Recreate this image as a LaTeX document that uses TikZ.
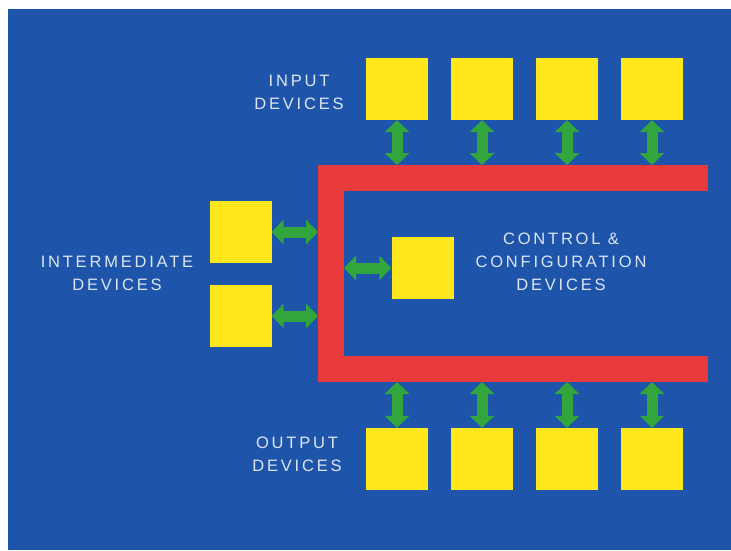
\documentclass[tikz,border=0pt]{standalone}
\usepackage{fontspec}
\setmainfont{Liberation Sans}
\newfontfamily\lblfont[LetterSpace=17]{Liberation Sans}
\usetikzlibrary{positioning,arrows.meta}
\definecolor{bgblue}{HTML}{1E55AA}
\definecolor{busred}{HTML}{E8393B}
\definecolor{devyel}{HTML}{FFE71C}
\definecolor{linkgrn}{HTML}{32A63C}
\definecolor{lbltext}{HTML}{DCE5F1}
\tikzset{
  dv box/.style={fill=devyel, minimum size=62pt, inner sep=0pt},
  dv arr/.style={{Triangle[length=12pt,width=24pt]}-{Triangle[length=12pt,width=24pt]}, line width=11pt, linkgrn},
  dv bus/.style={line width=26pt, busred, line join=miter},
  dv lbl/.style={font=\lblfont\fontsize{16.5}{23}\selectfont, text=lbltext, align=center},
}
\begin{document}
\begin{tikzpicture}[x=1pt, y=-1pt]
  \useasboundingbox (0,0) rectangle (731,551);
  \fill[bgblue] (8,9) rectangle (731,550);
  % bus and its edges
  \draw[dv bus] (708,178) -- (331,178) -- (331,369) -- (708,369);
  \coordinate (bt) at (0,165);
  \coordinate (bb) at (0,382);
  \coordinate (bl) at (318,0);
  \coordinate (bi) at (344,0);
  \foreach \n/\x in {1/397,2/482,3/567,4/652} {
    \node[dv box] (in\n) at (\x,89) {};
    \node[dv box] (out\n) at (\x,459) {};
    \draw[dv arr] (in\n.south) -- (in\n.south |- bt);
    \draw[dv arr] (out\n.north |- bb) -- (out\n.north);
  }
  \node[dv box] (mid1) at (240.5,232) {};
  \node[dv box] (mid2) at (240.5,316) {};
  \node[dv box] (ctl) at (422.5,268) {};
  \foreach \m in {mid1,mid2} \draw[dv arr] (\m.east) -- (\m.east -| bl);
  \draw[dv arr] (ctl.west -| bi) -- (ctl.west);
  \node[dv lbl] (inlbl) at (299,92) {INPUT\\DEVICES};
  \node[dv lbl] (outlbl) at (297,454) {OUTPUT\\DEVICES};
  \node[dv lbl] (midlbl) at (117,273) {INTERMEDIATE\\DEVICES};
  \node[dv lbl] (ctllbl) at (561,262) {CONTROL \&\\CONFIGURATION\\DEVICES};
\end{tikzpicture}
\end{document}
